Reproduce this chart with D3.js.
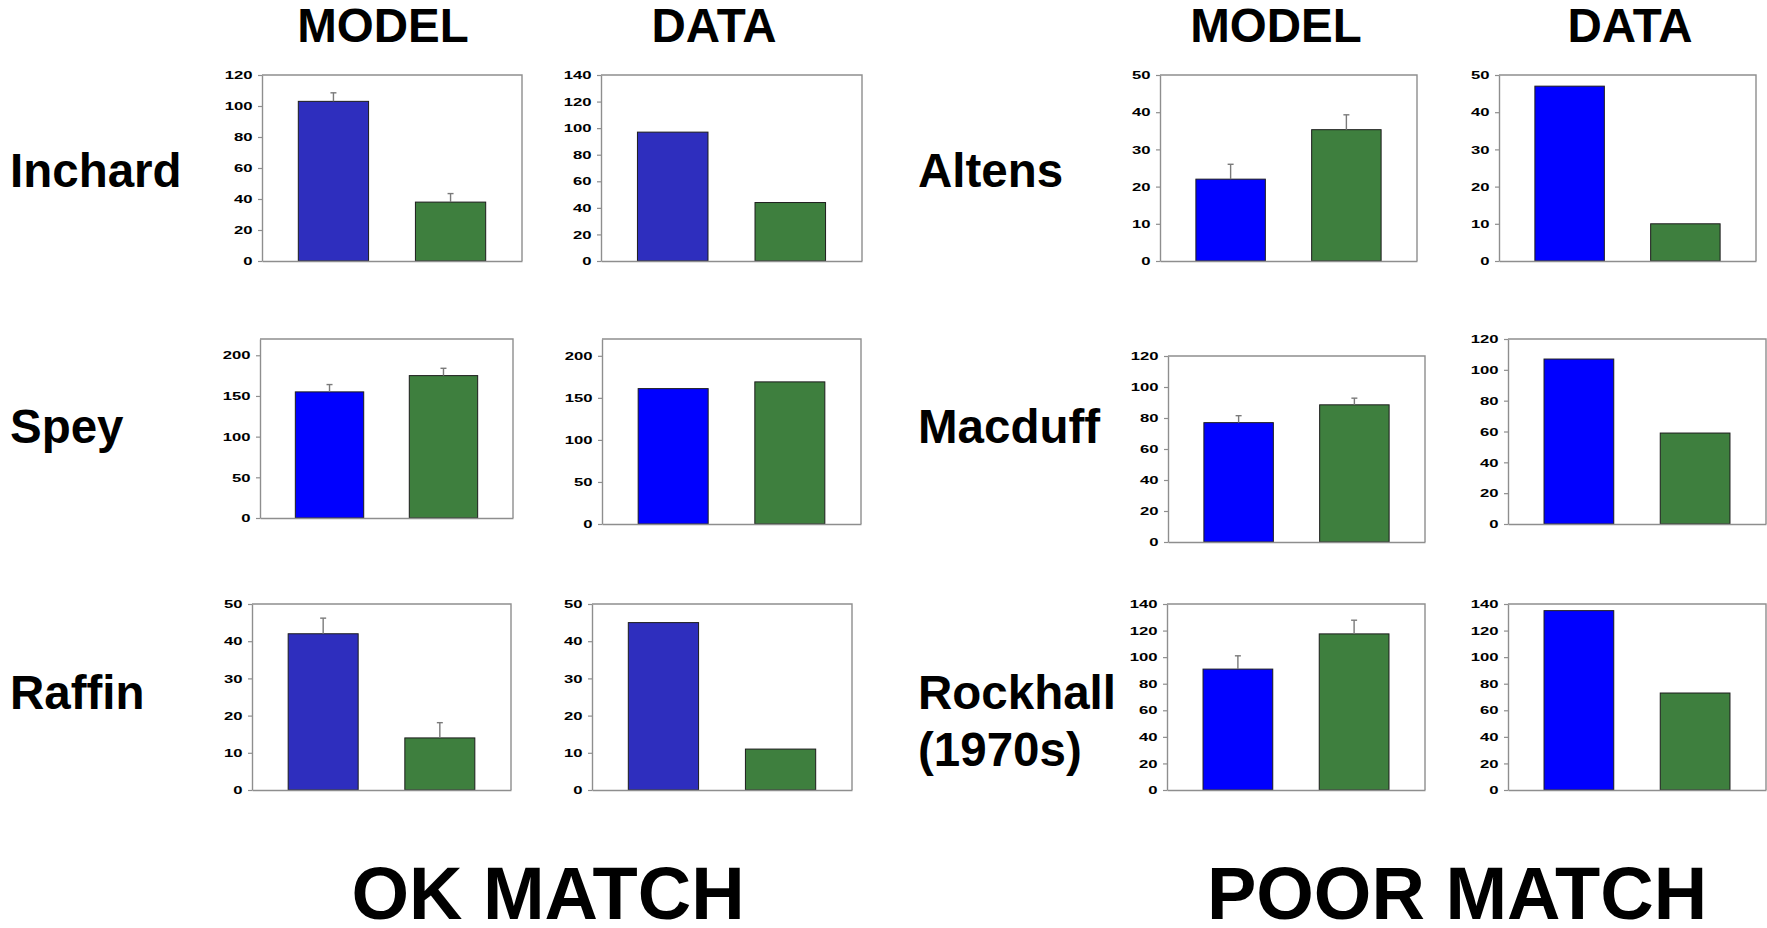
<!DOCTYPE html>
<html>
<head>
<meta charset="utf-8">
<script src="https://cdn.jsdelivr.net/npm/d3@7"></script>
<style>
  html, body { margin: 0; padding: 0; background: #ffffff; }
  svg { display: block; }
  text { font-family: "Liberation Sans", Arial, sans-serif; font-weight: bold; fill: #000; }
</style>
</head>
<body>
<svg id="chart" width="1767" height="928"></svg>
<script>
// Sites, grouped by how well the model reproduces the observations
const sites = ["Inchard", "Spey", "Raffin", "Altens", "Macduff", "Rockhall"];
const siteLabels = [["Inchard"], ["Spey"], ["Raffin"], ["Altens"], ["Macduff"], ["Rockhall", "(1970s)"]];
const columnTitles = ["MODEL", "DATA"];
const groupTitles = ["OK MATCH", "POOR MATCH"];

// Model output (mean and upper error) for the blue and green bars
const modelBlue     = [103, 155, 42, 22, 77, 91];
const modelBlueErr  = [5.5, 9, 4.2, 4, 4.5, 10];
const modelGreen    = [38, 175, 14, 35.3, 88.5, 117.5];
const modelGreenErr = [5.5, 9, 4.1, 4, 4.3, 10.3];

// Observed values
const dataBlue  = [97, 161, 45, 47, 107, 135];
const dataGreen = [44, 169, 11, 10, 59, 73];

// Axis ranges and tick steps per site: [model, data]
const axisMax  = [[120, 140], [220, 220], [50, 50], [50, 50], [120, 120], [140, 140]];
const tickStep = [[20, 20], [50, 50], [10, 10], [10, 10], [20, 20], [20, 20]];

// Plot frames per site: [model, data], each [left, right, top, bottom]
const frames = [
  [[262, 522, 75, 261],   [601, 862, 75, 261]],
  [[260, 513, 339, 518],  [602, 861, 339, 524]],
  [[252, 511, 604, 790],  [592, 852, 604, 790]],
  [[1160, 1417, 75, 261], [1499, 1756, 75, 261]],
  [[1168, 1425, 356, 542],[1508, 1766, 339, 524]],
  [[1167, 1425, 604, 790],[1508, 1766, 604, 790]]
];
const labelPos = [[10, 187], [10, 443], [10, 709], [918, 187], [918, 443], [918, 709]];
const columnTitlePos = [[383, 42], [714, 42], [1276, 42], [1630, 42]];
const groupTitlePos = [[548, 919], [1457, 919]];

const blueFill = ["#2e2ebe", "#0000ff", "#2e2ebe", "#0000ff", "#0000ff", "#0000ff"];
const greenFill = "#3e7f3e";
const frameColor = "#8e8e8e";

const svg = d3.select("#chart");

// Column headings and group titles
columnTitlePos.forEach((p, i) => {
  svg.append("text").attr("x", p[0]).attr("y", p[1])
    .attr("text-anchor", "middle").style("font-size", "47.5px")
    .text(columnTitles[i % 2]);
});
groupTitlePos.forEach((p, i) => {
  svg.append("text").attr("x", p[0]).attr("y", p[1])
    .attr("text-anchor", "middle").style("font-size", "74px")
    .text(groupTitles[i]);
});

// Site names
siteLabels.forEach((lines, i) => {
  const t = svg.append("text").attr("x", labelPos[i][0]).attr("y", labelPos[i][1])
    .style("font-size", "47.5px");
  lines.forEach((s, k) => {
    t.append("tspan").attr("x", labelPos[i][0]).attr("dy", k === 0 ? 0 : 57).text(s);
  });
});

function drawPanel(frame, max, step, bars) {
  const [x0, x1, y0, y1] = frame;
  const g = svg.append("g");
  const x = d3.scaleBand().domain(["blue", "green"]).range([x0, x1])
    .paddingInner(0.4).paddingOuter(0.31);
  const y = d3.scaleLinear().domain([0, max]).range([y1, y0]);

  // Plot frame (top and right edges)
  g.append("path")
    .attr("d", `M${x0},${y0}H${x1}V${y1}`)
    .attr("fill", "none").attr("stroke", frameColor).attr("stroke-width", 1.4);

  // Bars
  g.selectAll("rect.bar").data(bars).join("rect")
    .attr("class", "bar")
    .attr("x", d => x(d.key))
    .attr("width", x.bandwidth())
    .attr("y", d => y(d.value))
    .attr("height", d => y(0) - y(d.value))
    .attr("fill", d => d.fill)
    .attr("stroke", "#1c1c1c").attr("stroke-width", 1);

  // Upper error bars
  const eb = bars.filter(d => d.err != null);
  g.selectAll("line.err").data(eb).join("line")
    .attr("class", "err")
    .attr("x1", d => x(d.key) + x.bandwidth() / 2)
    .attr("x2", d => x(d.key) + x.bandwidth() / 2)
    .attr("y1", d => y(d.value))
    .attr("y2", d => y(d.value + d.err))
    .attr("stroke", "#7a7a7a").attr("stroke-width", 1.4);
  g.selectAll("line.cap").data(eb).join("line")
    .attr("class", "cap")
    .attr("x1", d => x(d.key) + x.bandwidth() / 2 - 3)
    .attr("x2", d => x(d.key) + x.bandwidth() / 2 + 3)
    .attr("y1", d => y(d.value + d.err))
    .attr("y2", d => y(d.value + d.err))
    .attr("stroke", "#7a7a7a").attr("stroke-width", 1.4);

  // Value axis
  const yAxis = g.append("g").attr("transform", `translate(${x0},0)`)
    .call(d3.axisLeft(y).tickValues(d3.range(0, max + 0.001, step))
      .tickSize(4).tickSizeOuter(0).tickPadding(6));
  yAxis.select(".domain").attr("stroke", frameColor).attr("stroke-width", 1.4);
  yAxis.selectAll(".tick line").attr("stroke", frameColor).attr("stroke-width", 1.2);
  yAxis.selectAll(".tick text")
    .attr("x", -9.5 / 1.45)
    .attr("transform", "scale(1.45,1)")
    .style("font-size", "11.5px")
    .style("font-family", "'Liberation Sans', Arial, sans-serif")
    .style("font-weight", "bold")
    .attr("fill", "#111");

  // Category baseline
  const xAxis = g.append("g").attr("transform", `translate(0,${y1})`)
    .call(d3.axisBottom(x).tickSize(0).tickSizeOuter(0).tickFormat(""));
  xAxis.select(".domain").attr("stroke", frameColor).attr("stroke-width", 1.4);
}

sites.forEach((s, i) => {
  drawPanel(frames[i][0], axisMax[i][0], tickStep[i][0], [
    { key: "blue", value: modelBlue[i], err: modelBlueErr[i], fill: blueFill[i] },
    { key: "green", value: modelGreen[i], err: modelGreenErr[i], fill: greenFill }
  ]);
  drawPanel(frames[i][1], axisMax[i][1], tickStep[i][1], [
    { key: "blue", value: dataBlue[i], err: null, fill: blueFill[i] },
    { key: "green", value: dataGreen[i], err: null, fill: greenFill }
  ]);
});
</script>
</body>
</html>
